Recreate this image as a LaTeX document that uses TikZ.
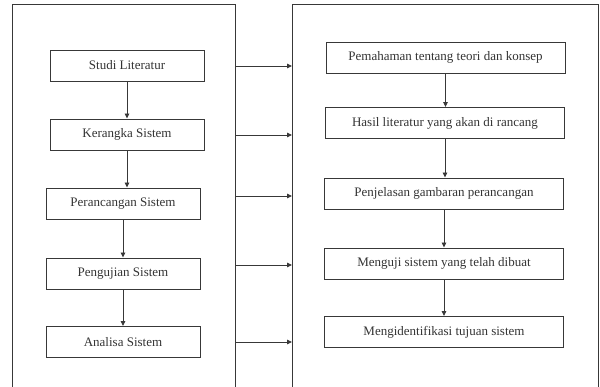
\documentclass[tikz,border=0pt]{standalone}
\usepackage{fontspec}
\setmainfont{Liberation Serif}
\usetikzlibrary{arrows.meta}
\begin{document}
\begin{tikzpicture}[x=1pt,y=-1pt,
  line/.style={draw=black!78,line width=0.9pt},
  stepbox/.style={line,rectangle,inner sep=0pt,minimum height=31pt,
    text=black!80,font=\fontsize{13}{15}\selectfont},
  leftbox/.style={stepbox,minimum width=154pt},
  rightbox/.style={stepbox,minimum width=239pt},
  arr/.style={line,-{Triangle[length=5pt,width=4.5pt]}}]
\useasboundingbox (0,0) rectangle (600,387);
% panel frames, open at the bottom
\draw[line] (12,387) -- (12,4) -- (235,4) -- (235,387);
\draw[line] (292,387) -- (292,4) -- (598,4) -- (598,387);
% left column
\node[leftbox] (l1) at (127,65.5) {Studi Literatur};
\node[leftbox] (l2) at (127,134.5) {Kerangka Sistem};
\node[leftbox] (l3) at (123,203.5) {Perancangan Sistem};
\node[leftbox] (l4) at (123,273.5) {Pengujian Sistem};
\node[leftbox] (l5) at (123,342) {Analisa Sistem};
% right column
\node[rightbox] (r1) at (445.5,57.5) {Pemahaman tentang teori dan konsep};
\node[rightbox] (r2) at (445,123) {Hasil literatur yang akan di rancang};
\node[rightbox] (r3) at (444,193.5) {Penjelasan gambaran perancangan};
\node[rightbox] (r4) at (444,263.5) {Menguji sistem yang telah dibuat};
\node[rightbox] (r5) at (444,332) {Mengidentifikasi tujuan sistem};
% vertical flow
\foreach \a/\b in {l1/l2,l2/l3,l3/l4,l4/l5,r1/r2,r2/r3,r3/r4,r4/r5}
  \draw[arr] (\a.south) -- (\a.south |- \b.north);
% links between the panels
\foreach \i/\y in {1/66,2/135,3/196,4/265,5/342}{
  \coordinate (p\i) at (235,\y);
  \coordinate (q\i) at (292,\y);
  \draw[arr] (p\i) -- (q\i);
}
\end{tikzpicture}
\end{document}
